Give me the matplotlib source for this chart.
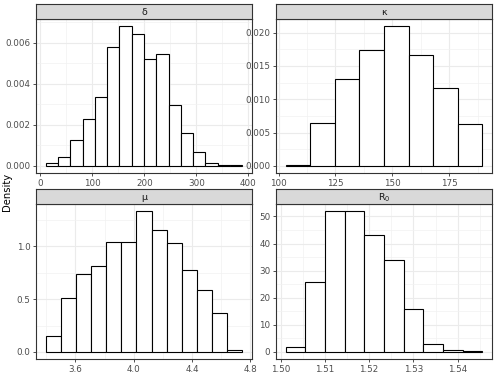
import matplotlib.pyplot as plt
import numpy as np
from matplotlib.ticker import FixedLocator, FormatStrFormatter

# histogram bins (first edge, bin width, densities)
delta_start, delta_width = 10.3, 23.6
delta_dens = [0.00016, 0.00045, 0.00128, 0.00231, 0.00334, 0.00582, 0.00682, 0.00643,
              0.00523, 0.00544, 0.00298, 0.00159, 0.00067, 0.00016, 0.00003, 0.00003]

kappa_start, kappa_width = 103.2, 10.78
kappa_dens = [0.0001, 0.00652, 0.01304, 0.01743, 0.02099, 0.01669, 0.01165, 0.00627]

mu_start, mu_width = 3.3966, 0.1037
mu_dens = [0.147, 0.511, 0.743, 0.812, 1.044, 1.044, 1.335, 1.157, 1.034, 0.777,
           0.586, 0.367, 0.019]

r0_start, r0_width = 1.5012, 0.004434
r0_dens = [1.84, 25.7, 52.0, 52.0, 43.1, 34.1, 15.7, 2.94, 0.74, 0.25]

titles = ["δ", "κ", "μ", r"$\mathregular{R_0}$"]
xticks = [[0, 100, 200, 300, 400], [100, 125, 150, 175], [3.6, 4.0, 4.4, 4.8],
          [1.50, 1.51, 1.52, 1.53, 1.54]]
yticks = [[0, 0.002, 0.004, 0.006], [0, 0.005, 0.010, 0.015, 0.020], [0, 0.5, 1.0],
          [0, 10, 20, 30, 40, 50]]
xfmt = ["%d", "%d", "%.1f", "%.2f"]
yfmt = ["%.3f", "%.3f", "%.1f", "%d"]

panels = [(delta_start, delta_width, delta_dens), (kappa_start, kappa_width, kappa_dens),
          (mu_start, mu_width, mu_dens), (r0_start, r0_width, r0_dens)]

W, H = 495, 383
fig = plt.figure(figsize=(W / 100, H / 100), dpi=100)

# pixel boxes: (left, right) columns and (strip top, strip bottom, panel bottom) rows
cols = [(36, 252), (276, 492)]
rows = [(4, 19, 173), (189, 204, 359)]

for i, (start, width, dens) in enumerate(panels):
    x0, x1 = cols[i % 2]
    st, sb, pb = rows[i // 2]
    ax = fig.add_axes([x0 / W, 1 - pb / H, (x1 - x0) / W, (pb - sb) / H])
    sax = fig.add_axes([x0 / W, 1 - sb / H, (x1 - x0) / W, (sb - st) / H])

    dens = np.array(dens)
    lefts = start + width * np.arange(len(dens))
    ax.bar(lefts, dens, width=width, align='edge', facecolor='white',
           edgecolor='black', linewidth=0.8, zorder=3)

    # ggplot-style 5% expansion on both axes
    lo, hi = lefts[0], lefts[-1] + width
    pad = 0.05 * (hi - lo)
    ax.set_xlim(lo - pad, hi + pad)
    top = dens.max()
    ax.set_ylim(-0.05 * top, 1.05 * top)

    xt = xticks[i]
    yt = yticks[i]
    xs = xt[1] - xt[0]
    ys = yt[1] - yt[0]
    ax.xaxis.set_major_locator(FixedLocator(xt))
    ax.yaxis.set_major_locator(FixedLocator(yt))
    ax.xaxis.set_minor_locator(FixedLocator([t + xs / 2 for t in [xt[0] - xs] + xt]))
    ax.yaxis.set_minor_locator(FixedLocator([t + ys / 2 for t in [yt[0] - ys] + yt]))
    ax.xaxis.set_major_formatter(FormatStrFormatter(xfmt[i]))
    ax.yaxis.set_major_formatter(FormatStrFormatter(yfmt[i]))

    ax.grid(which='major', color='#ebebeb', lw=0.8, zorder=0)
    ax.grid(which='minor', color='#f2f2f2', lw=0.5, zorder=0)
    ax.set_axisbelow(True)
    ax.tick_params(which='major', length=2.5, width=0.6, color='#333333',
                   labelsize=6.3, labelcolor='#4d4d4d', pad=1.5)
    ax.tick_params(which='minor', length=0)
    for s in ax.spines.values():
        s.set_color('#333333')
        s.set_linewidth(0.8)

    sax.set_facecolor('#d9d9d9')
    sax.set_xticks([])
    sax.set_yticks([])
    for s in sax.spines.values():
        s.set_color('#333333')
        s.set_linewidth(0.8)
    sax.text(0.5, 0.45, titles[i], ha='center', va='center', fontsize=6.8,
             color='#1a1a1a', transform=sax.transAxes)

fig.text(7 / W, 0.5, "Density", rotation=90, ha='center', va='center',
         fontsize=7.2, color='black')

fig.savefig("out.png", dpi=100)
